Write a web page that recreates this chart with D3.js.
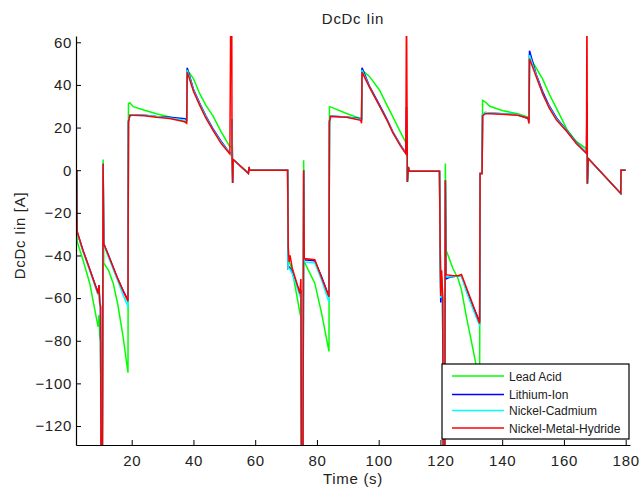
<!DOCTYPE html>
<html>
<head>
<meta charset="utf-8">
<script src="https://cdn.jsdelivr.net/npm/d3@7"></script>
<style>
  html, body { margin: 0; padding: 0; background: #fff; }
  svg { display: block; font-family: "Liberation Sans", Arial, sans-serif; }
</style>
</head>
<body>
<svg id="chart" width="639" height="487"></svg>
<script>
/////////////////////////////////
// DcDc Iin per battery type.
//

const seriesNames = ["Lead Acid", "Lithium-Ion", "Nickel-Cadmium", "Nickel-Metal-Hydride"];
const seriesColors = ["#00ff00", "#0000ff", "#00ffff", "#ff0000"];

const xTicks = [20, 40, 60, 80, 100, 120, 140, 160, 180];
const yTicks = [-120, -100, -80, -60, -40, -20, 0, 20, 40, 60];

// time (s), shared by all series
const times = [
    2.2, 2.25, 2.35, 4.2, 6.4, 9.1, 9.4, 9.65, 9.9, 10.05, 10.5, 10.75, 10.95,
    12.5, 14.0, 15.5, 17.2, 18.8, 18.95, 19.4, 20.5, 24.2, 28, 32.3, 37.2, 37.8,
    38.0, 40.0, 42.0, 44.0, 46.3, 49.0, 51.8, 52.1, 52.4, 52.5, 52.7, 52.9, 57.8, 58.0, 58.2,
    70.5, 70.7, 71.0, 71.3, 72.0, 74.5, 74.8, 75.0, 75.5, 75.7, 75.9, 79.3, 81.5, 83.9,
    84.05, 84.4, 89.6, 94.2, 94.45, 94.6, 97.0, 100.3, 102.5, 104.6, 107.0, 108.8, 109.0,
    109.3, 109.6, 109.9, 119.7, 119.85, 120.1, 120.4, 120.7, 120.9, 121.4, 121.6, 121.8,
    122.5, 124.0, 125.7, 126.8, 128.4, 130.6, 132.7, 132.85, 133.5, 133.65, 134.5, 136,
    140, 145, 148.3, 148.7, 148.85, 151, 153.2, 155.3, 157.6, 161.0, 164, 167.3, 167.45,
    167.6, 167.9, 178.4, 178.5, 180.0
];

const leadAcid = [
    0, -30, -33.6, -42, -53, -73.4, -68, -78, -80, -135, -135, 5, -43.6,
    -47, -53, -63, -78, -95, 31.2, 31.6, 29.8, 28.1, 26.5, 25, 22.8, 23.2,
    47, 43, 36, 30.5, 25.5, 18, 11, 11, 11, 24, -6, 5, -1.5, 1.5, 0,
    0, -40, -43, -44, -47, -67, -69, -135, -135, 4.7, -43, -53, -67, -85,
    29.7, 29.7, 26.6, 24.2, 24, 47, 44, 37.5, 31, 25, 18, 13, 13,
    -5.5, 1.5, -0.5, -0.5, -26.6, -58, -50, -60, -135, -135, 3.1, -37.5,
    -40, -46, -50.8, -56, -68.7, -84.4, -100, -1.5, -1.5, 32.8, 32, 30,
    28, 26.5, 25, 25, 53, 48, 42.5, 35.5, 29, 19, 13.5, 10, 10,
    -6.3, 5.5, -10.9, 0, 0
];

const lithiumIon = [
    0, -24, -29, -37.5, -46.5, -57.5, -54, -62, -64, -135, -135, 3, -34.5,
    -40, -45.5, -51, -56.5, -61, 23, 25.5, 26, 25.8, 25.2, 24.8, 24.2, 23.5,
    48, 38, 31.5, 25.5, 19.5, 13.5, 8, 8, 8, 24, -6, 5, -1.5, 1.5, 0,
    0, -46, -45.5, -46, -48, -57.5, -57, -135, -135, 0, -42, -42.5, -50, -59.4,
    23, 25.3, 25, 24.2, 23.5, 48, 39.5, 30.5, 24.5, 18, 12, 8, 29.7,
    -5.5, 1.5, -0.5, -0.5, -26.6, -62, -55, -60, -135, -135, -4.7, -51,
    -50.5, -50, -49.5, -49.5, -56, -64, -71, -1.5, -1.5, 26, 27, 26.8,
    26.5, 26, 24.2, 24, 56, 45, 36.5, 30, 24.5, 18.5, 13, 8.2, 32,
    -6.3, 5.5, -10.9, 0, 0
];

const nickelCadmium = [
    0, -25, -29.5, -38, -47, -58.5, -55, -63, -65, -135, -135, 3, -35,
    -41, -46.5, -52, -58.5, -64, 23.5, 26, 26, 25.8, 25.2, 24.5, 23.5, 23,
    47, 37.5, 31, 25, 19, 13, 7.8, 7.8, 7.8, 24, -6, 5, -1.5, 1.5, 0,
    0, -46, -46, -46.5, -48.5, -59, -58, -135, -135, 0, -43, -43.5, -51.5, -62,
    23, 25.5, 25, 23.8, 23, 47, 39, 30, 24, 17.8, 11.8, 7.8, 8,
    -5.5, 1.5, -0.5, -0.5, -26.6, -60, -52, -60, -135, -135, -4.7, -50,
    -50, -50, -49.5, -49.5, -57, -65.5, -73, -1.5, -1.5, 26, 27, 26.8,
    26.5, 26, 24.5, 23.5, 54, 44.5, 35.5, 29.5, 24, 18.3, 12.8, 8, 8,
    -6.3, 5.5, -10.9, 0, 0
];

const nickelMetalHydride = [
    0, -22, -28.9, -37.5, -46.5, -57.8, -53.9, -62, -64, -135, -135, 3, -34.5,
    -40, -45.5, -51, -56.5, -61.5, 22.6, 25.8, 25.8, 25.5, 24.8, 24.2, 22.7, 22,
    46, 37, 30.5, 24.5, 18.8, 12.5, 7.6, 80, 80, 7, -6, 5, -1.5, 1.5, 0,
    0, -36, -43, -40, -46, -57.8, -51, -135, -135, 0, -41.4, -42, -50.3, -59.4,
    22.6, 25.3, 24.8, 23.4, 22, 46, 39, 30, 24, 17.5, 11.5, 7.8, 80,
    -5.5, 1.5, -0.5, -0.5, -26.6, -59, -47, -58, -135, -135, -4.7, -49,
    -49.2, -49.5, -49.5, -48.9, -55, -63.5, -71.9, -1.5, -1.5, 25.5, 26.5, 26.5,
    26.2, 25.8, 24.5, 21.9, 52.3, 44, 35.5, 29, 23.5, 18, 12.5, 7.8, 80,
    -6.3, 5.5, -10.9, 0, 0
];

const seriesValues = [leadAcid, lithiumIon, nickelCadmium, nickelMetalHydride];

document.addEventListener("DOMContentLoaded", () => {

    const svg = d3.select("#chart");

    const left = 76, right = 630, top = 36, bottom = 445;

    const x = d3.scaleLinear().domain([1.96, 181.4]).range([left, right]);
    const y = d3.scaleLinear().domain([-128.9, 62.95]).range([bottom, top]);

    svg.append("defs").append("clipPath")
        .attr("id", "plotClip")
        .append("rect")
        .attr("x", left).attr("y", top)
        .attr("width", right - left).attr("height", bottom - top);

    // lines
    const line = d3.line()
        .x((d) => x(d[0]))
        .y((d) => y(d[1]));

    const lineGroup = svg.append("g").attr("clip-path", "url(#plotClip)");
    seriesValues.forEach((values, i) => {

        const points = times.map((t, j) => [t, values[j]]);
        lineGroup.append("path")
            .datum(points)
            .attr("d", line)
            .attr("fill", "none")
            .attr("stroke", seriesColors[i])
            .attr("stroke-width", 1.5);
    });

    // axes, ticks pointing inwards
    const xAxis = d3.axisBottom(x)
        .tickValues(xTicks)
        .tickSizeInner(-5)
        .tickSizeOuter(0)
        .tickPadding(10);

    const yAxis = d3.axisLeft(y)
        .tickValues(yTicks)
        .tickSizeInner(-5)
        .tickSizeOuter(0)
        .tickPadding(4);

    const gx = svg.append("g")
        .attr("transform", `translate(0,${bottom})`)
        .call(xAxis);
    const gy = svg.append("g")
        .attr("transform", `translate(${left},0)`)
        .call(yAxis);

    [gx, gy].forEach((g) => {

        g.selectAll("text")
            .attr("font-size", 15)
            .attr("letter-spacing", 0.7)
            .attr("font-family", "Liberation Sans, Arial, sans-serif")
            .attr("fill", "#222");
        g.selectAll("line").attr("stroke", "#000");
        g.select(".domain").attr("stroke", "#000").attr("stroke-width", 1.2);
    });

    // title and labels
    svg.append("text")
        .attr("x", (left + right) / 2)
        .attr("y", 24)
        .attr("text-anchor", "middle")
        .attr("font-size", 15)
        .attr("letter-spacing", 0.7)
        .attr("fill", "#222")
        .text("DcDc Iin");

    svg.append("text")
        .attr("x", (left + right) / 2)
        .attr("y", 484)
        .attr("text-anchor", "middle")
        .attr("font-size", 15)
        .attr("letter-spacing", 0.7)
        .attr("fill", "#222")
        .text("Time (s)");

    svg.append("text")
        .attr("transform", `translate(25,${(top + bottom) / 2 - 5}) rotate(-90)`)
        .attr("text-anchor", "middle")
        .attr("font-size", 15)
        .attr("letter-spacing", 0.7)
        .attr("fill", "#222")
        .text("DcDc Iin [A]");

    // legend
    const legend = svg.append("g").attr("transform", "translate(442,364)");
    legend.append("rect")
        .attr("width", 187)
        .attr("height", 75)
        .attr("fill", "#fff")
        .attr("stroke", "#000")
        .attr("stroke-width", 1.2);

    const rowY = [12, 30.5, 46.5, 64];
    seriesNames.forEach((name, i) => {

        legend.append("line")
            .attr("x1", 10).attr("x2", 62)
            .attr("y1", rowY[i]).attr("y2", rowY[i])
            .attr("stroke", seriesColors[i])
            .attr("stroke-width", 1.5);
        legend.append("text")
            .attr("x", 67)
            .attr("y", rowY[i] + 4.5)
            .attr("font-size", 12)
            .attr("fill", "#222")
            .text(name);
    });
});
</script>
</body>
</html>
